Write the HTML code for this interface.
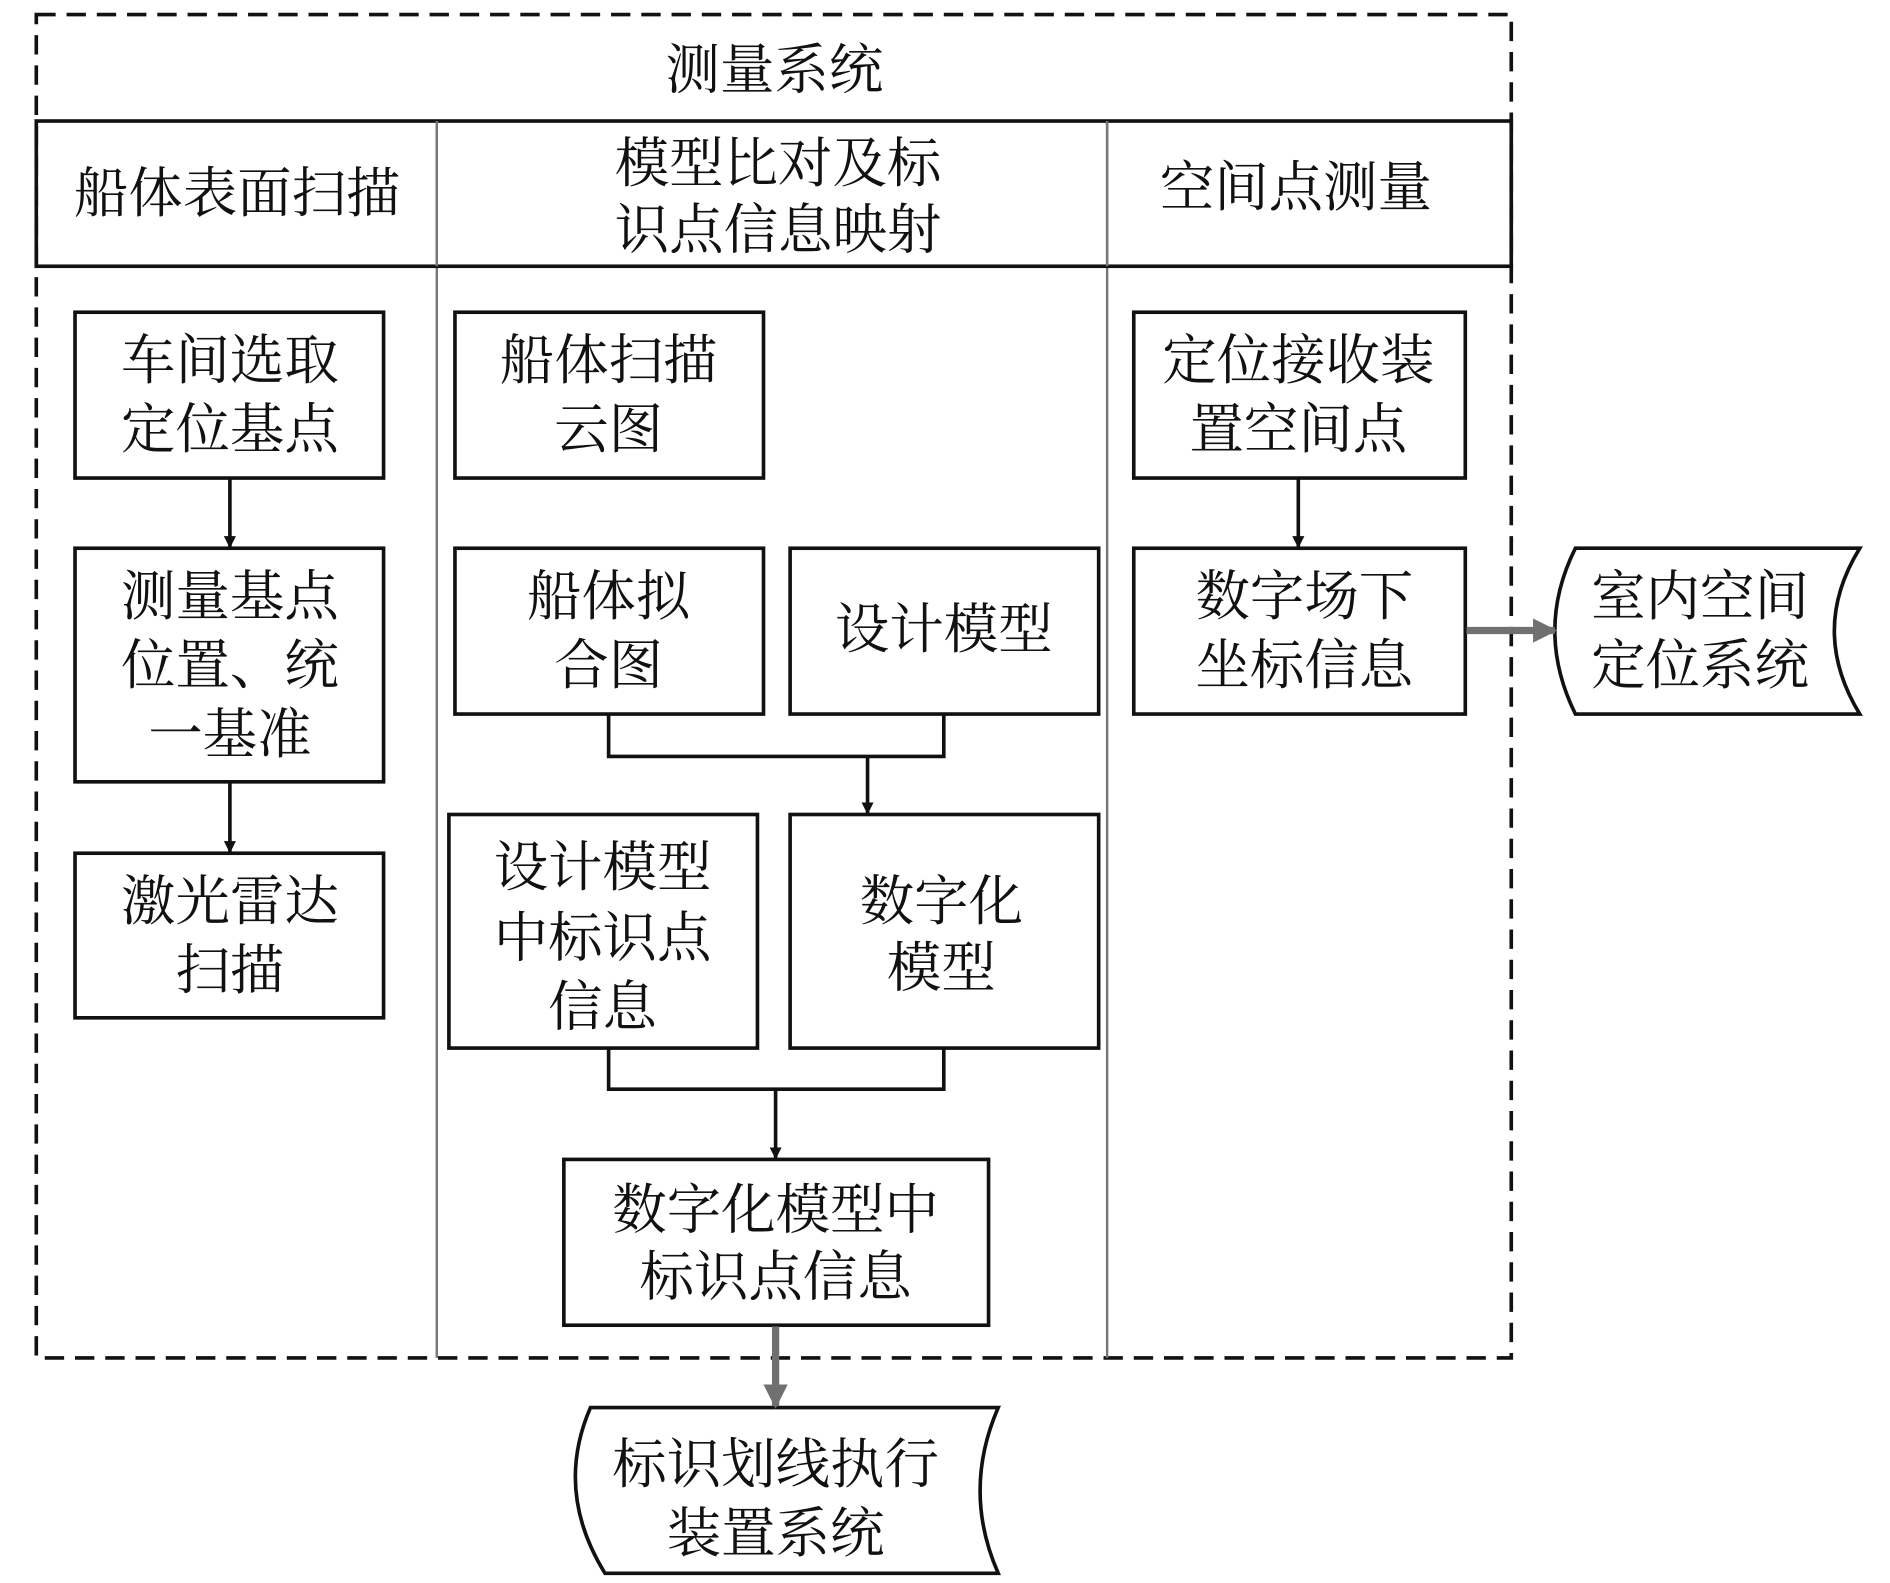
<!DOCTYPE html>
<html><head><meta charset="utf-8"><style>
html,body{margin:0;padding:0;background:#fff;}
svg{display:block;}
text{font-family:"Liberation Serif","Noto Serif CJK SC",serif;font-size:45px;fill:#111;text-anchor:middle;dominant-baseline:central;}
</style></head><body>
<svg width="1890" height="1583" viewBox="0 0 1562 1308" preserveAspectRatio="none" xmlns="http://www.w3.org/2000/svg">
<defs>
<marker id="ah" markerWidth="10" markerHeight="10" refX="9" refY="5" orient="auto" markerUnits="userSpaceOnUse"><path d="M0,0 L10,5 L0,10 z" fill="#111"/></marker>
<marker id="ag" markerWidth="20" markerHeight="20" refX="18" refY="10" orient="auto" markerUnits="userSpaceOnUse"><path d="M0,0 L20,10 L0,20 z" fill="#707070"/></marker>
</defs>
<!-- outer dashed -->
<rect x="30" y="12" width="1219" height="1110" fill="none" stroke="#111" stroke-width="3" stroke-dasharray="16,9"/>
<!-- gray dividers -->
<line x1="361" y1="100" x2="361" y2="1122" stroke="#777" stroke-width="2"/>
<line x1="915" y1="100" x2="915" y2="1122" stroke="#777" stroke-width="2"/>
<!-- header row -->
<rect x="30" y="100" width="1219" height="120" fill="none" stroke="#111" stroke-width="3"/>
<line x1="361" y1="100" x2="361" y2="220" stroke="#777" stroke-width="2"/>
<line x1="915" y1="100" x2="915" y2="220" stroke="#777" stroke-width="2"/>
<text x="640" y="58">测量系统</text>
<text x="196" y="160">船体表面扫描</text>
<text x="643" y="135">模型比对及标</text>
<text x="643" y="190">识点信息映射</text>
<text x="1071" y="155">空间点测量</text>
<g fill="#fff" stroke="#111" stroke-width="3">
<rect x="62" y="258" width="255" height="137"/>
<rect x="62" y="453" width="255" height="193"/>
<rect x="62" y="705" width="255" height="136"/>
<rect x="376" y="258" width="255" height="137"/>
<rect x="376" y="453" width="255" height="137"/>
<rect x="653" y="453" width="255" height="137"/>
<rect x="371" y="673" width="255" height="193"/>
<rect x="653" y="673" width="255" height="193"/>
<rect x="466" y="958" width="351" height="137"/>
<rect x="937" y="258" width="274" height="137"/>
<rect x="937" y="453" width="274" height="137"/>
<path d="M488,1163 L825,1163 Q795,1232 825,1300 L500,1300 Q458,1232 488,1163 Z"/>
<path d="M1302,453 L1537,453 Q1495,521 1537,590 L1302,590 Q1268,521 1302,453 Z"/>
</g>
<g stroke="#111" stroke-width="3" fill="none">
<line x1="190" y1="395" x2="190" y2="452" marker-end="url(#ah)"/>
<line x1="190" y1="646" x2="190" y2="704" marker-end="url(#ah)"/>
<line x1="1073" y1="395" x2="1073" y2="452" marker-end="url(#ah)"/>
<polyline points="503,590 503,625 780,625 780,590"/>
<line x1="717" y1="625" x2="717" y2="672" marker-end="url(#ah)"/>
<polyline points="503,866 503,900 780,900 780,866"/>
<line x1="641" y1="900" x2="641" y2="957" marker-end="url(#ah)"/>
</g>
<g stroke="#707070" stroke-width="6" fill="none">
<line x1="641" y1="1096" x2="641" y2="1162" marker-end="url(#ag)"/>
<line x1="1212" y1="521" x2="1285" y2="521" marker-end="url(#ag)"/>
</g>
<text x="190" y="298">车间选取</text>
<text x="190" y="355">定位基点</text>
<text x="190" y="493">测量基点</text>
<text x="190" y="550">位置、统</text>
<text x="190" y="607">一基准</text>
<text x="190" y="745">激光雷达</text>
<text x="190" y="802">扫描</text>
<text x="503" y="298">船体扫描</text>
<text x="503" y="355">云图</text>
<text x="503" y="493">船体拟</text>
<text x="503" y="550">合图</text>
<text x="780" y="520">设计模型</text>
<text x="498" y="717">设计模型</text>
<text x="498" y="775">中标识点</text>
<text x="498" y="832">信息</text>
<text x="778" y="745">数字化</text>
<text x="778" y="800">模型</text>
<text x="641" y="1000">数字化模型中</text>
<text x="641" y="1055">标识点信息</text>
<text x="1073" y="298">定位接收装</text>
<text x="1073" y="355">置空间点</text>
<text x="1078" y="493">数字场下</text>
<text x="1078" y="550">坐标信息</text>
<text x="1405" y="493">室内空间</text>
<text x="1405" y="550">定位系统</text>
<text x="641" y="1210">标识划线执行</text>
<text x="641" y="1267">装置系统</text>
</svg>
</body></html>
